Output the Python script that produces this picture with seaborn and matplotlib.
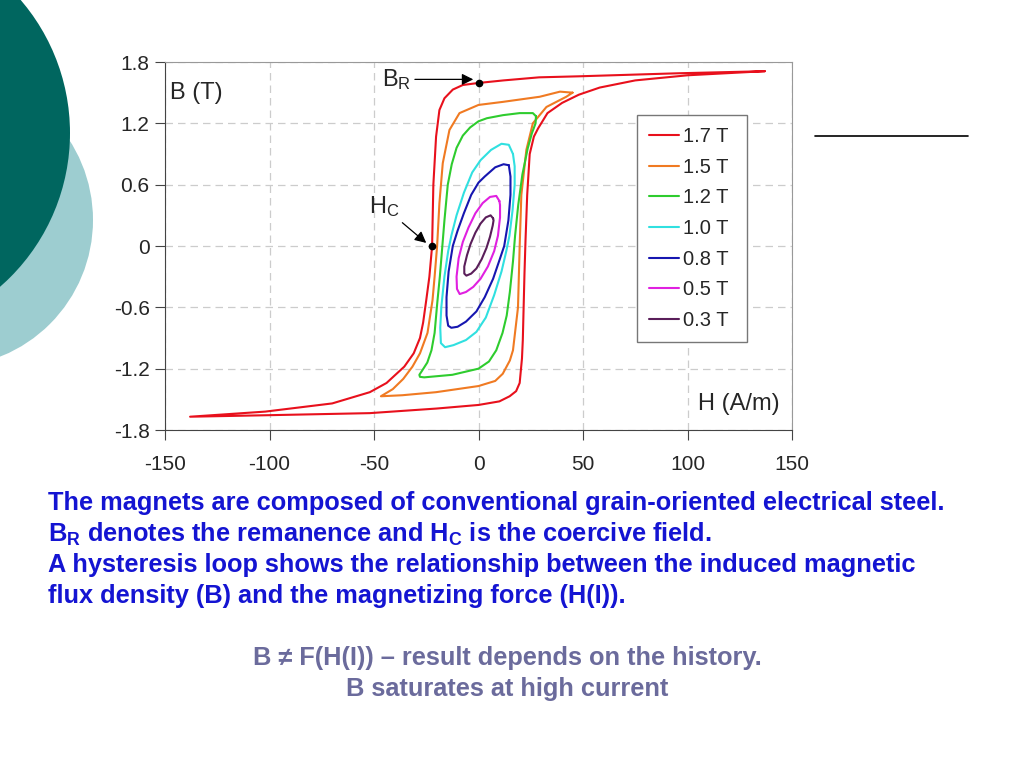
import numpy as np
import pandas as pd
import seaborn as sns
import matplotlib.pyplot as plt
from matplotlib.patches import Circle
from matplotlib.lines import Line2D

# hysteresis loops: each loop starts at its positive tip,
# runs down the upper (descending) branch, then back up the lower branch
h_17 = [137, 96, 48, 29, 12, 0, -7.5, -12.3, -16.3, -18.7, -20.3, -21.6, -22.2, -23.5, -25, -26.5, -28,
        -31, -35.5, -44, -52, -70, -102, -138,
        -100, -52, -20, 0, 10, 14.9, 18, 19.7, 20.8, 21.2, 22, 22.5, 23.3, 24.5, 26.5, 28.5, 33, 40, 48, 58, 75, 100, 137]
b_17 = [1.71, 1.69, 1.66, 1.65, 1.62, 1.595, 1.575, 1.53, 1.445, 1.33, 1.07, 0.6, 0.0, -0.3, -0.53, -0.75, -0.9,
        -1.05, -1.18, -1.34, -1.43, -1.54, -1.62, -1.67,
        -1.655, -1.635, -1.59, -1.555, -1.52, -1.47, -1.42, -1.34, -1.1, -0.92, -0.27, 0.06, 0.5, 0.9, 1.07, 1.15, 1.3, 1.40, 1.48, 1.55, 1.62, 1.67, 1.71]

h_15 = [45, 39, 29.3, 11.7, 0, -9.1, -13.9, -17.1, -18.7, -19.8, -21, -22, -24.4, -28, -31.6, -36, -41, -46.7,
        -36.5, -20.3, 0, 8, 11.6, 15, 16.5, 18.9, 19.7, 20.5, 22.9, 26, 32.5, 42, 45]
b_15 = [1.50, 1.51, 1.46, 1.41, 1.38, 1.30, 1.135, 0.81, 0.42, 0.0, -0.3, -0.53, -0.85, -1.05, -1.18, -1.30, -1.40, -1.47,
        -1.46, -1.43, -1.37, -1.32, -1.25, -1.12, -1.02, -0.6, 0.0, 0.5, 0.94, 1.2, 1.36, 1.46, 1.50]

h_12 = [27.5, 26, 19.7, 11.7, 4, 0, -4, -7.5, -10.5, -12.8, -14.7, -16.3, -17.3, -18.5, -19.7, -21, -22.5, -24.5,
        -27, -28.3, -28, -26,
        -12.5, 0, 5, 8.5, 11.5, 13.5, 15, 16.5, 17.5, 19, 21, 23.5, 25.5, 27.3, 27.5]
b_12 = [1.27, 1.30, 1.30, 1.28, 1.25, 1.22, 1.16, 1.08, 0.96, 0.8, 0.6, 0.25, 0.0, -0.3, -0.55, -0.85, -1.02, -1.14,
        -1.22, -1.26, -1.28, -1.285,
        -1.26, -1.20, -1.13, -1.02, -0.85, -0.68, -0.45, -0.15, 0.1, 0.4, 0.7, 0.95, 1.1, 1.2, 1.27]

h_10 = [16.5, 14.5, 11, 6, 1, -3, -7, -10.5, -13, -14.5, -16.3, -17.8, -18.3, -18, -16,
        -12, -6, -1, 3.5, 7.5, 11, 13.3, 14.8, 16.3, 17.3, 17.3, 16.5]
b_10 = [0.9, 0.99, 1.0, 0.94, 0.84, 0.72, 0.52, 0.3, 0.1, -0.05, -0.3, -0.6, -0.8, -0.95, -0.99,
        -0.97, -0.92, -0.84, -0.7, -0.48, -0.25, -0.05, 0.1, 0.35, 0.6, 0.78, 0.9]

h_08 = [14.5, 12, 8, 3, 0, -3.5, -7, -10, -12.3, -14.3, -15.3, -15.3, -14.5, -13,
        -10, -6, -1, 3, 7, 10, 12.3, 14.3, 15.3, 15.3, 14.5]
b_08 = [0.79, 0.80, 0.77, 0.68, 0.62, 0.5, 0.32, 0.15, 0.0, -0.25, -0.5, -0.68, -0.78, -0.80,
        -0.79, -0.74, -0.64, -0.5, -0.32, -0.14, 0.0, 0.25, 0.5, 0.68, 0.79]

h_05 = [10, 8.5, 5.5, 2, -1.5, -4.8, -7.5, -9.5, -10.5, -10.3, -9,
        -6, -2.5, 1, 4.5, 7.5, 9.3, 10.3, 10.3, 10]
b_05 = [0.44, 0.49, 0.48, 0.42, 0.32, 0.18, 0.04, -0.12, -0.3, -0.42, -0.47,
        -0.45, -0.40, -0.32, -0.2, -0.05, 0.1, 0.28, 0.4, 0.44]

h_03 = [7, 5.8, 3.5, 1, -1.5, -3.8, -5.5, -6.8, -6.8, -5.8,
        -3.5, -1, 1.5, 3.8, 5.5, 6.8, 7.2, 7]
b_03 = [0.27, 0.30, 0.28, 0.22, 0.13, 0.02, -0.09, -0.2, -0.27, -0.29,
        -0.27, -0.22, -0.13, -0.02, 0.09, 0.2, 0.25, 0.27]

loop_names = ["1.7 T", "1.5 T", "1.2 T", "1.0 T", "0.8 T", "0.5 T", "0.3 T"]
loop_h = [h_17, h_15, h_12, h_10, h_08, h_05, h_03]
loop_b = [b_17, b_15, b_12, b_10, b_08, b_05, b_03]
loop_colors = ["#E8101C", "#F07A22", "#2ECC2E", "#30E0E0", "#1616B0", "#E020E0", "#5A1E5A"]

x_ticks = [-150, -100, -50, 0, 50, 100, 150]
y_ticks = [-1.8, -1.2, -0.6, 0, 0.6, 1.2, 1.8]
y_tick_labels = ["-1.8", "-1.2", "-0.6", "0", "0.6", "1.2", "1.8"]

# remanence and coercive field points
br_point = (0, 1.595)
hc_point = (-22.2, 0.0)

rows = []
for name, hs, bs in zip(loop_names, loop_h, loop_b):
    for i, (h, b) in enumerate(zip(hs, bs)):
        rows.append({"loop": name, "order": i, "H": h, "B": b})
df = pd.DataFrame(rows)

sns.set_style("ticks")
plt.rcParams["font.family"] = ["Liberation Sans", "DejaVu Sans"]
plt.rcParams["axes.unicode_minus"] = False
plt.rcParams["mathtext.fontset"] = "custom"
plt.rcParams["mathtext.rm"] = "Liberation Sans"
plt.rcParams["mathtext.bf"] = "Liberation Sans:bold"

fig = plt.figure(figsize=(10.24, 7.68), dpi=100)

# slide decoration: two overlapping circles at the left edge
bg = fig.add_axes([0, 0, 1, 1], zorder=0)
bg.set_xlim(0, 1024)
bg.set_ylim(768, 0)
bg.axis("off")
bg.add_patch(Circle((-54, 220), 147, color="#9DCDD0", lw=0))
bg.add_patch(Circle((-134, 133), 204, color="#00665F", lw=0))

ax = fig.add_axes([165 / 1024, 1 - 430 / 768, 627 / 1024, 368 / 768], zorder=1)
sns.lineplot(data=df, x="H", y="B", hue="loop", hue_order=loop_names, palette=loop_colors,
             sort=False, estimator=None, units="loop", linewidth=1.5, legend=False, ax=ax)

ax.set_xlim(-150, 150)
ax.set_ylim(-1.8, 1.8)
ax.set_xticks(x_ticks)
ax.set_xticklabels([str(v) for v in x_ticks])
ax.set_yticks(y_ticks)
ax.set_yticklabels(y_tick_labels)
ax.tick_params(labelsize=15, length=7, color="#444444")
ax.tick_params(axis="x", pad=11)
ax.tick_params(axis="y", pad=4)
ax.set_xlabel("")
ax.set_ylabel("")
ax.grid(True, linestyle=(0, (6, 4)), color="#CCCCCC", linewidth=0.9)
for side in ["left", "bottom"]:
    ax.spines[side].set_color("#444444")
for side in ["top", "right"]:
    ax.spines[side].set_color("#999999")

ax.text(0.008, 0.916, "B (T)", transform=ax.transAxes, fontsize=17, va="center", ha="left")
ax.text(0.981, 0.07, "H (A/m)", transform=ax.transAxes, fontsize=17, va="center", ha="right")

ax.plot(*br_point, "o", color="black", markersize=4.5, zorder=5)
ax.plot(*hc_point, "o", color="black", markersize=4.5, zorder=5)
ax.annotate(r"$\mathrm{B_R}$", xy=(-2.5, 1.63), xytext=(-32, 1.63), fontsize=17,
            ha="right", va="center",
            arrowprops=dict(arrowstyle="-|>", color="black", lw=0.9, shrinkA=0, shrinkB=0))
ax.annotate(r"$\mathrm{H_C}$", xy=(-25, 0.03), xytext=(-38, 0.26), fontsize=17,
            ha="right", va="bottom",
            arrowprops=dict(arrowstyle="-|>", color="black", lw=0.9, shrinkA=0, shrinkB=0))

handles = [Line2D([0], [0], color=c, lw=1.5) for c in loop_colors]
leg = ax.legend(handles, loop_names, loc="upper left",
                bbox_to_anchor=(0.753, 0.242, 0.1754, 0.614), mode="expand",
                borderaxespad=0, fontsize=14.5, handlelength=1.5, handletextpad=0.2,
                labelspacing=0.58, borderpad=0.6, fancybox=False, framealpha=1,
                edgecolor="#777777")
leg.get_frame().set_linewidth(1.0)

# short rule at the top right of the slide
fig.add_artist(Line2D([815 / 1024, 968 / 1024], [1 - 136 / 768, 1 - 136 / 768], color="black", lw=1.2))

blue = "#1414D2"
lines = [
    "The magnets are composed of conventional grain-oriented electrical steel.",
    r"B$_\mathbf{R}$ denotes the remanence and H$_\mathbf{C}$ is the coercive field.",
    "A hysteresis loop shows the relationship between the induced magnetic",
    "flux density (B) and the magnetizing force (H(I)).",
]
for i, t in enumerate(lines):
    fig.text(48 / 1024, 1 - (503 + 31 * i) / 768, t, color=blue, fontsize=18.3,
             fontweight="bold", ha="left", va="center")

grey = "#6B6B9C"
fig.text(507 / 1024, 1 - 658 / 768, "B \u2260 F(H(I)) \u2013 result depends on the history.",
         color=grey, fontsize=18.3, fontweight="bold", ha="center", va="center")
fig.text(507 / 1024, 1 - 689 / 768, "B saturates at high current",
         color=grey, fontsize=18.3, fontweight="bold", ha="center", va="center")

plt.savefig("out.png", dpi=100)
plt.close()
